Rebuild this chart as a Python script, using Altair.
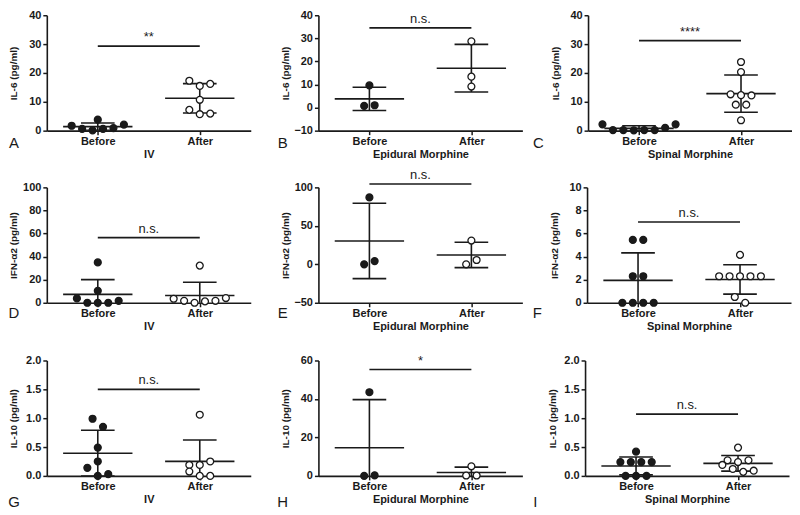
import altair as alt
import pandas as pd

# ---------------- data ----------------
letters = ["A", "B", "C", "D", "E", "F", "G", "H", "I"]
y_titles = ["IL-6 (pg/ml)", "IL-6 (pg/ml)", "IL-6 (pg/ml)",
            "IFN-α2 (pg/ml)", "IFN-α2 (pg/ml)", "IFN-α2 (pg/ml)",
            "IL-10 (pg/ml)", "IL-10 (pg/ml)", "IL-10 (pg/ml)"]
x_titles = ["IV", "Epidural Morphine", "Spinal Morphine"] * 3
groups = ["Before", "After"]

y_min = [0, -10, 0, 0, -50, 0, 0, 0, 0]
y_max = [40, 40, 40, 100, 100, 10, 2, 60, 2]
y_step = [10, 10, 10, 20, 50, 2, 0.5, 20, 0.5]

before = [
    [1.7, 0.6, 0.1, 3.8, 0.6, 0.9, 2.1],
    [9.6, 0.7, 1.0],
    [2.2, 0.2, 0.2, 0.1, 0.2, 0.2, 1.0, 2.2],
    [3.8, 0.0, 35.0, 10.4, 0.0, 0.0, 1.7],
    [86.9, 0.0, 4.2],
    [0.0, 0.0, 0.0, 0.0, 2.3, 2.3, 5.45, 5.45],
    [0.99, 0.85, 0.49, 0.25, 0.14, 0.0, 0.03],
    [43.5, 0.0, 0.3],
    [0.42, 0.24, 0.24, 0.24, 0.24, 0.0, 0.0, 0.0],
]
after = [
    [17.3, 15.5, 16.2, 10.7, 7.2, 5.7, 5.9],
    [28.7, 13.4, 9.1],
    [23.8, 20.3, 12.6, 12.3, 12.2, 9.0, 9.0, 3.6],
    [3.5, 1.7, 0.0, 32.2, 1.2, 1.7, 4.1],
    [30.9, 0.0, 5.6],
    [2.3, 2.3, 2.3, 2.3, 2.3, 4.15, 0.5, 0.0],
    [1.06, 0.19, 0.19, 0.25, 0.075, 0.0, 0.0],
    [5.0, 0.2, 0.2],
    [0.49, 0.27, 0.24, 0.27, 0.19, 0.12, 0.07, 0.09],
]
sig_level = [29.3, 34.5, 31.2, 56.5, 104.4, 7.0, 1.5, 55.3, 1.07]
sig_label = ["**", "n.s.", "****", "n.s.", "n.s.", "n.s.", "n.s.", "*", "n.s."]

# ---------------- styling ----------------
W, H = 205, 116
XMAX = 4.0
SLOT_PX = 10.5      # horizontal spacing of points in a swarm row
ROW_PX = 9.0        # vertical closeness that puts points in one row
MEAN_HALF = 0.68
CAP_HALF = 0.33
INK = "#1a1a1a"
FONT = "Liberation Sans"


def swarm(vals, lo, hi):
    """Column-scatter layout: points close in y share a row, spread symmetrically."""
    px = [(v - lo) / (hi - lo) * H for v in vals]
    order = sorted(range(len(vals)), key=lambda i: vals[i])
    rows = []
    for i in order:
        if rows and px[i] - px[rows[-1][0]] < ROW_PX:
            rows[-1].append(i)
        else:
            rows.append([i])
    offs = [0.0] * len(vals)
    unit = W / XMAX
    for r in rows:
        n = len(r)
        for j, i in enumerate(sorted(r)):
            offs[i] = (j - (n - 1) / 2) * SLOT_PX / unit
    return offs


def panel(k, letter_dx, letter_dy):
    lo, hi, step = y_min[k], y_max[k], y_step[k]
    recs = []
    for g, name, vals in ((1, groups[0], before[k]), (3, groups[1], after[k])):
        for v, o in zip(vals, swarm(vals, lo, hi)):
            recs.append({"g": g, "grp": name, "v": v, "xp": g + o})
    df = pd.DataFrame(recs)

    n_ticks = int(round((hi - lo) / step)) + 1
    ticks = [lo + i * step for i in range(n_ticks)]
    fmt = ".1f" if step < 1 else "d"
    xs = alt.Scale(domain=[0, XMAX], nice=False, zero=False)
    ys = alt.Scale(domain=[lo, hi], nice=False, zero=False)
    xax = alt.Axis(values=[1, 3], labelExpr="datum.value == 1 ? 'Before' : 'After'",
                   title=x_titles[k], grid=False)
    yax = alt.Axis(values=ticks, format=fmt, title=y_titles[k], grid=False)

    def X(f):
        return alt.X(f, type="quantitative", scale=xs, axis=xax)

    def Y(f):
        return alt.Y(f, type="quantitative", scale=ys, axis=yax)

    base = alt.Chart(df)
    stats = base.transform_aggregate(
        m="mean(v)", s="stdev(v)", groupby=["g"]
    ).transform_calculate(
        lo="datum.m - datum.s",
        hi="datum.m + datum.s",
        a1=f"datum.g - {MEAN_HALF}",
        a2=f"datum.g + {MEAN_HALF}",
        c1=f"datum.g - {CAP_HALF}",
        c2=f"datum.g + {CAP_HALF}",
    )
    rule_kw = dict(color=INK, strokeWidth=1.6, clip=True)
    mean = stats.mark_rule(**rule_kw).encode(x=X("a1"), x2=alt.X2("a2"), y=Y("m"))
    bar = stats.mark_rule(**rule_kw).encode(x=X("g"), y=Y("lo"), y2=alt.Y2("hi"))
    cap_lo = stats.mark_rule(**rule_kw).encode(x=X("c1"), x2=alt.X2("c2"), y=Y("lo"))
    cap_hi = stats.mark_rule(**rule_kw).encode(x=X("c1"), x2=alt.X2("c2"), y=Y("hi"))

    pts = base.mark_point(shape="circle", filled=True, size=48, stroke=INK,
                          strokeWidth=1.3, opacity=1).encode(
        x=X("xp"), y=Y("v"),
        fill=alt.Fill("grp:N", scale=alt.Scale(domain=groups, range=[INK, "white"]),
                      legend=None),
    )

    sig_df = pd.DataFrame({"y": [sig_level[k]], "t": [sig_label[k]],
                           "a": [1], "b": [3], "c": [2]})
    sig_line = alt.Chart(sig_df).mark_rule(color=INK, strokeWidth=1.7).encode(
        x=X("a"), x2=alt.X2("b"), y=Y("y"))
    sig_txt = alt.Chart(sig_df).mark_text(baseline="bottom", dy=-2, fontSize=13,
                                          font=FONT, color=INK).encode(
        x=X("c"), y=Y("y"), text="t:N")
    lab = alt.Chart(pd.DataFrame({"t": [letters[k]]})).mark_text(
        fontSize=15, font=FONT, color=INK, align="center", baseline="middle"
    ).encode(x=alt.value(letter_dx), y=alt.value(H + letter_dy), text="t:N")

    return alt.layer(mean, bar, cap_lo, cap_hi, pts, sig_line, sig_txt, lab).properties(
        width=W, height=H)


col_dx = [-33, -36, -50]
row_dy = [12, 10, 26]
rows = []
for r in range(3):
    p = [panel(3 * r + c, col_dx[c], row_dy[r]) for c in range(3)]
    rows.append(alt.hconcat(alt.hconcat(p[0], p[1], spacing=26), p[2], spacing=10))

chart = alt.vconcat(alt.vconcat(rows[0], rows[1], spacing=9), rows[2], spacing=23)

chart = chart.properties(padding=0).configure_view(stroke=None).configure_axis(
    domainColor=INK, domainWidth=1.6, tickColor=INK, tickWidth=1.5, tickSize=4,
    labelFont=FONT, labelFontWeight="bold", labelFontSize=11, labelColor=INK,
    titleFont=FONT, titleFontWeight="bold", titleFontSize=11, titleColor=INK,
).configure_axisY(minExtent=25, maxExtent=25, titlePadding=3, labelPadding=2,
                  titleFontSize=10
).configure_axisX(labelPadding=1, titlePadding=2)

chart.save("out.html", embed_options={"renderer": "svg", "actions": False})
